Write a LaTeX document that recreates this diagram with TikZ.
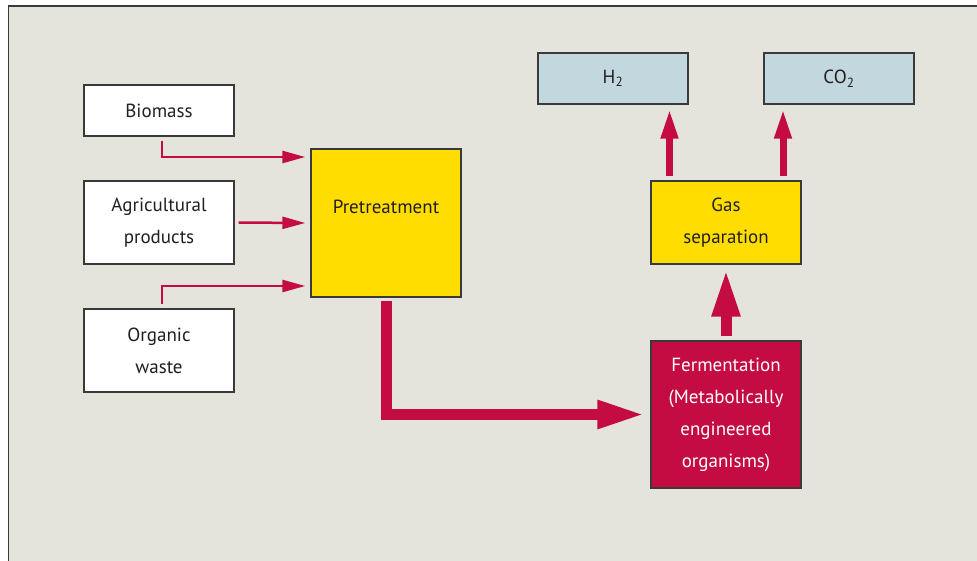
\documentclass[tikz,border=0pt]{standalone}
\usepackage{fontspec}
\setmainfont{PT Sans}
\usetikzlibrary{arrows.meta,calc}
\definecolor{bgc}{HTML}{E5E4DC}
\definecolor{redc}{HTML}{C40C42}
\definecolor{yelc}{HTML}{FFDD00}
\definecolor{bluc}{HTML}{C2D8DE}
\definecolor{txtc}{HTML}{231F20}
\definecolor{edgec}{HTML}{3A3A3A}
\tikzset{
  box/.style={draw=edgec, line width=1.4pt, minimum width=150pt, inner sep=0pt,
    align=center, text=txtc, font=\fontsize{19}{32}\selectfont},
  whitebox/.style={box, fill=white},
  yelbox/.style={box, fill=yelc},
  blubox/.style={box, fill=bluc},
  redbox/.style={box, fill=redc, text=white},
  thinarrow/.style={draw=redc, line width=2.5pt,
    -{Triangle[length=23pt,width=12pt]}},
  midarrow/.style={draw=redc, line width=7pt,
    -{Triangle[length=30pt,width=16pt]}},
  fatarrow/.style={draw=redc, line width=11pt,
    -{Triangle[length=48pt,width=26pt]}},
}
\begin{document}
\begin{tikzpicture}[x=1pt,y=-1pt]
\useasboundingbox (0,0) rectangle (977,561);
\fill[white] (0,0) rectangle (977,561);
\path[fill=bgc, draw=edgec, line width=1.5pt] (8.5,6) rectangle (990,575);

\node[whitebox, minimum height=51pt] (bio) at (159,110.5) {Biomass};
\node[whitebox, minimum height=83pt] (agr) at (159,222.5) {Agricultural\\products};
\node[whitebox, minimum height=83pt] (org) at (159,350.5) {Organic\\waste};
\node[yelbox, minimum height=148pt] (pre) at (386,223) {};
\node[text=txtc, font=\fontsize{19}{32}\selectfont] (pretext) at (386,207) {Pretreatment};
\node[blubox, minimum height=51pt] (h2) at (613,78.5) {H\textsubscript{2}};
\node[blubox, minimum height=51pt] (co2) at (839,78.5) {CO\textsubscript{2}};
\node[yelbox, minimum height=83pt] (gas) at (726,222.5) {Gas\\separation};
\node[redbox, minimum height=147pt] (fer) at (726,414.5) {Fermentation\\(Metabolically\\engineered\\organisms)};

\draw[thinarrow] ($(bio.south)+(3,4)$) |- ($(pre.west)+(-5,-66)$);
\draw[thinarrow] ($(agr.east)+(4,0)$) -- ($(pre.west)+(-5,0)$);
\draw[thinarrow] ($(org.north)+(3,-4)$) |- ($(pre.west)+(-5,63)$);
\draw[fatarrow] ($(pre.south)+(0.5,3)$) |- ($(fer.west)+(-5,0)$);
\draw[fatarrow] ($(fer.north)+(0,-4)$) -- ($(gas.south)+(0,4)$);
\draw[midarrow] ($(gas.north)+(-56.5,-4)$) -- ($(gas.north |- h2.south)+(-56.5,4)$);
\draw[midarrow] ($(gas.north)+(57,-4)$) -- ($(gas.north |- co2.south)+(57,4)$);
\end{tikzpicture}
\end{document}
